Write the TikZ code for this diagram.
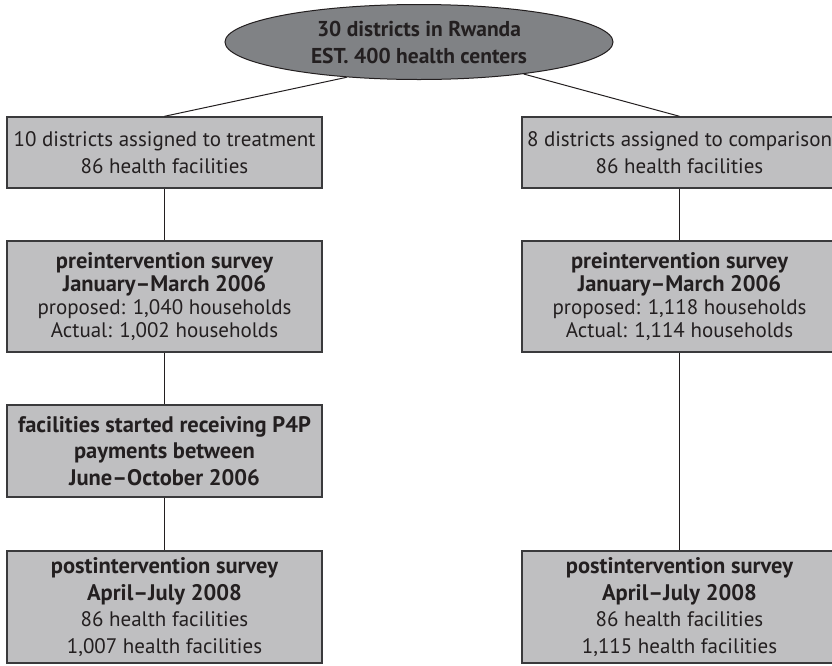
\documentclass[tikz,border=0pt]{standalone}
\usepackage{fontspec}
\setmainfont{PT Sans}
\usetikzlibrary{shapes.geometric}
\definecolor{boxfill}{HTML}{BFBFC1}
\definecolor{ellfill}{HTML}{808285}
\definecolor{ink}{HTML}{231F20}
\definecolor{edge}{HTML}{3A3A3C}
\newcommand{\bt}[1]{{\fontsize{22.5}{23}\selectfont\bfseries #1}}
\tikzset{
  box/.style={draw=edge, line width=1.4pt, fill=boxfill, text=ink, align=center,
    minimum width=315pt, inner sep=0pt, font=\fontsize{21}{26.5}\selectfont},
  tight/.style={font=\fontsize{21}{23}\selectfont},
  link/.style={draw=ink, line width=1pt}
}
\begin{document}
\begin{tikzpicture}[x=1pt,y=-1pt]
\useasboundingbox (0,0) rectangle (832,665);
\clip (0,0) rectangle (832,665);
\node[ellipse, draw=ink, line width=1pt, fill=ellfill, text=ink, align=center,
  minimum width=388pt, minimum height=75pt, inner sep=0pt,
  font=\fontsize{21.5}{27}\selectfont\bfseries] (top) at (419,42)
  {30 districts in Rwanda\\EST. 400 health centers};
\node[box, minimum height=71pt] (l1) at (164.5,152.5)
  {10 districts assigned to treatment\\86 health facilities};
\node[box, minimum height=71pt] (r1) at (679.5,152.5)
  {8 districts assigned to comparison\\86 health facilities};
\node[box, tight, minimum height=111pt] (l2) at (164.5,296.5)
  {\bt{preintervention survey}\\\bt{January–March 2006}\\proposed: 1,040 households\\Actual: 1,002 households};
\node[box, tight, minimum height=111pt] (r2) at (679.5,296.5)
  {\bt{preintervention survey}\\\bt{January–March 2006}\\proposed: 1,118 households\\Actual: 1,114 households};
\node[box, minimum height=92pt] (l3) at (164.5,451)
  {\bt{facilities started receiving P4P}\\\bt{payments between}\\\bt{June–October 2006}};
\node[box, minimum height=112pt] (l4) at (164.5,607)
  {\bt{postintervention survey}\\\bt{April–July 2008}\\86 health facilities\\1,007 health facilities};
\node[box, minimum height=112pt] (r4) at (679.5,607)
  {\bt{postintervention survey}\\\bt{April–July 2008}\\86 health facilities\\1,115 health facilities};
\draw[link] (top.206) -- (l1.north);
\draw[link] (top.343) -- (r1.north);
\draw[link] (l1) -- (l2);
\draw[link] (l2) -- (l3);
\draw[link] (l3) -- (l4);
\draw[link] (r1) -- (r2);
\draw[link] (r2) -- (r4);
\end{tikzpicture}
\end{document}
